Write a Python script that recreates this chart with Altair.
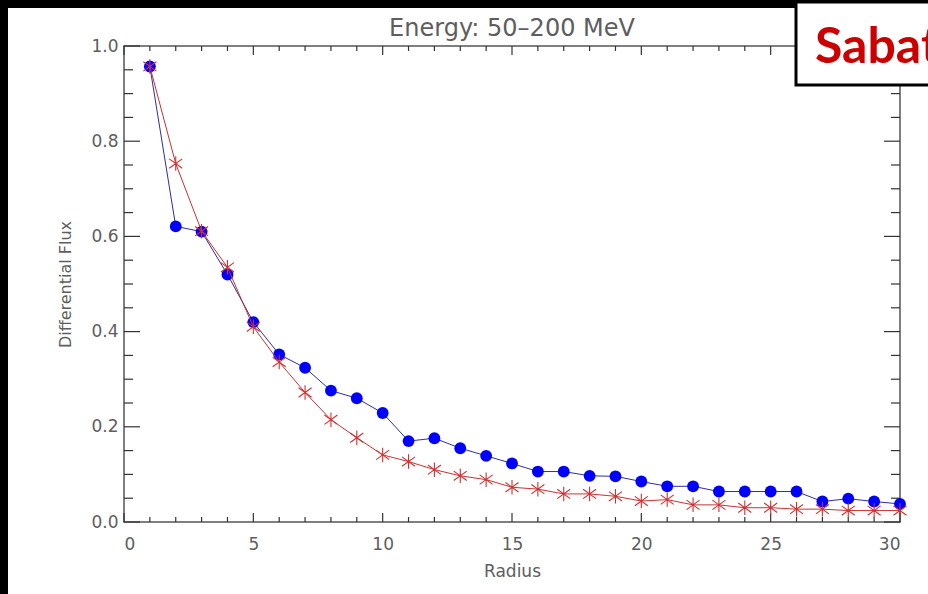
import altair as alt
import pandas as pd

radius = list(range(1, 31))
flux_blue = [0.957, 0.621, 0.610, 0.520, 0.420, 0.352, 0.324, 0.276, 0.260, 0.229,
             0.170, 0.176, 0.155, 0.139, 0.123, 0.106, 0.106, 0.097, 0.096, 0.085,
             0.075, 0.075, 0.064, 0.064, 0.064, 0.064, 0.043, 0.049, 0.043, 0.038]
flux_red = [0.957, 0.753, 0.611, 0.535, 0.410, 0.336, 0.272, 0.215, 0.177, 0.141,
            0.127, 0.110, 0.097, 0.089, 0.073, 0.069, 0.059, 0.059, 0.054, 0.044,
            0.047, 0.036, 0.036, 0.030, 0.030, 0.027, 0.027, 0.024, 0.024, 0.024]

x_major = [0, 5, 10, 15, 20, 25, 30]
x_minor = [v for v in range(0, 31) if v % 5 != 0]
y_major = [0.0, 0.2, 0.4, 0.6, 0.8, 1.0]
y_minor = [0.05, 0.1, 0.15, 0.25, 0.3, 0.35, 0.45, 0.5, 0.55, 0.65, 0.7, 0.75, 0.85, 0.9, 0.95]

title_text = "Energy: 50\u2013200 MeV"
x_title = "Radius"
y_title = "Differential Flux"
badge_text = "Sabat"

W, H = 776, 476
FONT = "DejaVu Sans"
GRAY = "#5e5e5e"

xs = alt.Scale(domain=[0, 30], nice=False, zero=False)
ys = alt.Scale(domain=[0, 1], nice=False, zero=False)

x_axis = alt.Axis(values=x_major, format="d", domain=False, ticks=False, tickSize=0,
                  grid=False, labelPadding=14, labelFont=FONT, labelFontSize=17,
                  labelColor=GRAY, title=x_title, titleFont=FONT, titleFontSize=17,
                  titleFontWeight="normal", titleColor=GRAY, titleX=W / 2, titleY=54,
                  titleAlign="center", titleBaseline="alphabetic", zindex=1)
y_axis = alt.Axis(values=y_major, format=".1f", domain=False, ticks=False, tickSize=0,
                  grid=False, labelPadding=6, labelFont=FONT, labelFontSize=17,
                  labelColor=GRAY, title=y_title, titleFont=FONT, titleFontSize=16,
                  titleFontWeight="normal", titleColor=GRAY, titleX=-59, titleY=H / 2,
                  titleAngle=270, titleAlign="center", titleBaseline="middle", zindex=1)

X = alt.X("r:Q", scale=xs, axis=x_axis)
Y = alt.Y("v:Q", scale=ys, axis=y_axis)

df_blue = pd.DataFrame({"r": radius, "v": flux_blue})
df_red = pd.DataFrame({"r": radius, "v": flux_red})
one = pd.DataFrame({"t": [badge_text]})

# black border bands of the slide
band_left = alt.Chart(one).mark_rect(color="black").encode(
    x=alt.value(-124), x2=alt.value(-116), y=alt.value(-46), y2=alt.value(H + 72))
band_top = alt.Chart(one).mark_rect(color="black").encode(
    x=alt.value(-124), x2=alt.value(W + 28), y=alt.value(-46), y2=alt.value(-38))

TICK = "#333333"
dfxM = pd.DataFrame({"r": x_major})
dfxm = pd.DataFrame({"r": x_minor})
dfyM = pd.DataFrame({"v": y_major})
dfym = pd.DataFrame({"v": y_minor})

ticks = [
    alt.Chart(dfxM).mark_rule(color=TICK, strokeWidth=1.2).encode(x=X, y=alt.value(H), y2=alt.value(H - 9)),
    alt.Chart(dfxm).mark_rule(color=TICK, strokeWidth=1.2).encode(x=X, y=alt.value(H), y2=alt.value(H - 5)),
    alt.Chart(dfxM).mark_rule(color=TICK, strokeWidth=1.2).encode(x=X, y=alt.value(0), y2=alt.value(9)),
    alt.Chart(dfxm).mark_rule(color=TICK, strokeWidth=1.2).encode(x=X, y=alt.value(0), y2=alt.value(5)),
    alt.Chart(dfyM).mark_rule(color=TICK, strokeWidth=1.2).encode(y=Y, x=alt.value(0), x2=alt.value(16)),
    alt.Chart(dfym).mark_rule(color=TICK, strokeWidth=1.2).encode(y=Y, x=alt.value(0), x2=alt.value(9)),
    alt.Chart(dfyM).mark_rule(color=TICK, strokeWidth=1.2).encode(y=Y, x=alt.value(W), x2=alt.value(W - 16)),
    alt.Chart(dfym).mark_rule(color=TICK, strokeWidth=1.2).encode(y=Y, x=alt.value(W), x2=alt.value(W - 9)),
]

blue_line = alt.Chart(df_blue).mark_line(color="#2e2e9e", strokeWidth=1).encode(x=X, y=Y)
blue_pts = alt.Chart(df_blue).mark_point(filled=True, shape="circle", size=140,
                                         color="#0000ff", opacity=1).encode(x=X, y=Y)
red_line = alt.Chart(df_red).mark_line(color="#c83232", strokeWidth=1).encode(x=X, y=Y)
asterisk = "M0,-1L0,1M-0.9,-0.65L0.9,0.65M-0.9,0.65L0.9,-0.65"
red_pts = alt.Chart(df_red).mark_point(shape=asterisk, size=210, filled=False,
                                       stroke="#d03030", strokeWidth=1.1,
                                       opacity=1).encode(x=X, y=Y)

title_mark = alt.Chart(one).mark_text(text=title_text, font=FONT, fontSize=24, color=GRAY,
                                      align="center", baseline="alphabetic").encode(
    x=alt.value(W / 2), y=alt.value(-10))

badge_box = alt.Chart(one).mark_rect(fill="white", stroke="black", strokeWidth=3).encode(
    x=alt.value(672), x2=alt.value(W + 60), y=alt.value(-44), y2=alt.value(39))
badge = alt.Chart(one).mark_text(font="Lato", fontWeight="bold", fontSize=50, color="#cc0000",
                                 align="left", baseline="alphabetic").encode(
    text="t:N", x=alt.value(691), y=alt.value(17))

chart = alt.layer(
    band_left, band_top, *ticks, blue_line, blue_pts, red_line, red_pts,
    title_mark, badge_box, badge
).properties(
    width=W, height=H,
    autosize=alt.AutoSizeParams(type="none"),
    padding={"left": 124, "top": 46, "right": 28, "bottom": 72},
    background="white",
).configure_view(
    stroke="#555555", strokeWidth=1.5, fill="white"
)

chart.save("out.html", embed_options={"renderer": "svg", "actions": False})
